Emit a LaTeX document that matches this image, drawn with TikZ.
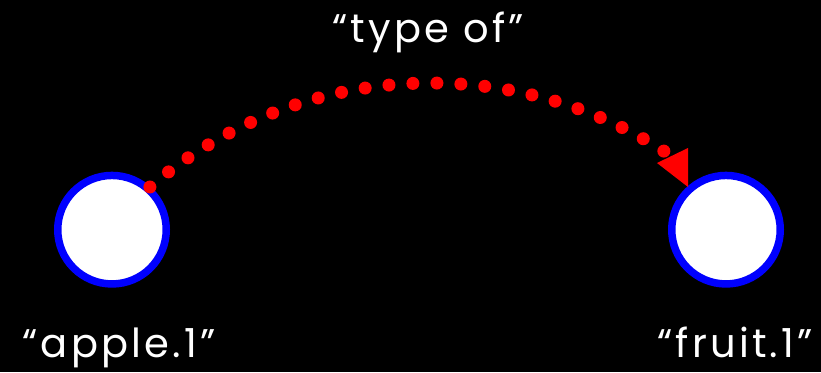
\documentclass[tikz,border=0pt]{standalone}
\usepackage{fontspec}
\setmainfont{Poppins}
\newfontfamily\lblfont[LetterSpace=8]{Poppins}
\begin{document}
\begin{tikzpicture}[x=1pt,y=1pt,
  concept/.style={circle,fill=white,draw={rgb,255:red,0;green,0;blue,255},line width=7.5pt,minimum size=108.5pt,inner sep=0pt,outer sep=0pt},
  lbl/.style={text=white,font=\lblfont\fontsize{40}{48}\selectfont,inner sep=0pt,anchor=base},
  dotline/.style={draw={rgb,255:red,255;green,0;blue,0},line width=13pt,line cap=round,dash pattern=on 0pt off 24pt}]
\fill[black] (0,0) rectangle (821,372);
\useasboundingbox (0,0) rectangle (821,372);
\node[concept] (a) at (112,142.3) {};
\node[concept] (b) at (726,142.3) {};
\node[lbl] (la) at (119,14.5) {“apple.1”};
\node[lbl] (lb) at (735,14.5) {“fruit.1”};
\node[lbl] (lt) at (428,329) {“type of”};
\coordinate (s) at (149.9,185);
\draw[dotline] (s) arc[start angle=130.6,end angle=55.9,radius=432];
\coordinate (t1) at (657,209);
\fill[red] (t1) -- (688,224) -- (688,185) -- cycle;
\end{tikzpicture}
\end{document}
